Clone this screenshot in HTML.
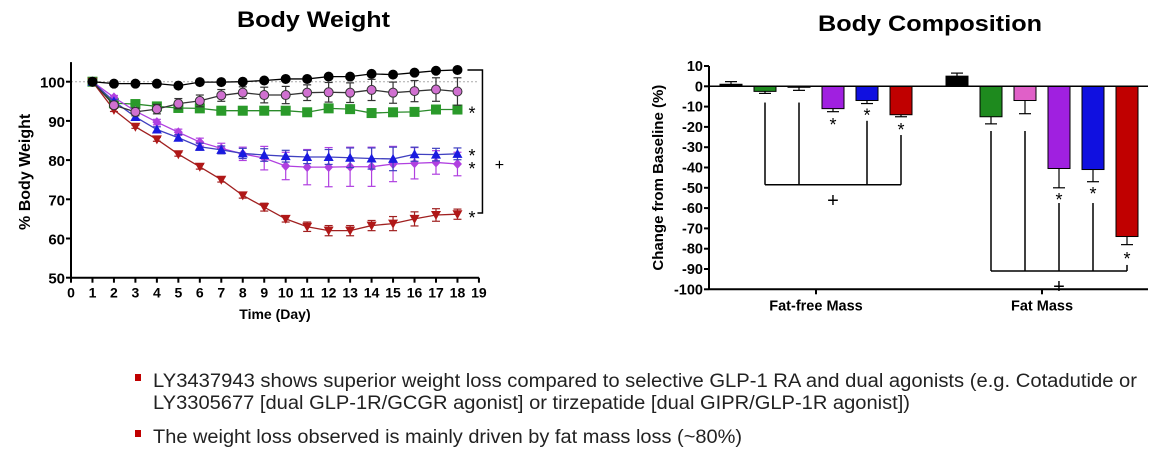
<!DOCTYPE html>
<html><head><meta charset="utf-8"><style>
html,body{margin:0;padding:0;background:#fff;width:1169px;height:454px;overflow:hidden;font-family:"Liberation Sans",Arial,sans-serif}
svg{display:block}
.t{font-family:"Liberation Sans",Arial,sans-serif}
</style></head><body>
<svg id="s" width="1169" height="454" viewBox="0 0 1169 454">
<text class="t" x="237" y="27" font-size="22" font-weight="bold" textLength="153" lengthAdjust="spacingAndGlyphs">Body Weight</text>
<text class="t" x="818" y="31" font-size="22" font-weight="bold" textLength="224" lengthAdjust="spacingAndGlyphs">Body Composition</text>
<g id="left"></g>
<g id="right"></g>
<g>
<rect x="135" y="374" width="6" height="7" fill="#c00000"/>
<text class="t" x="153" y="387" font-size="19" fill="#222" textLength="984" lengthAdjust="spacingAndGlyphs">LY3437943 shows superior weight loss compared to selective GLP-1 RA and dual agonists (e.g. Cotadutide or</text>
<text class="t" x="153" y="409" font-size="19" fill="#222" textLength="757" lengthAdjust="spacingAndGlyphs">LY3305677 [dual GLP-1R/GCGR agonist] or tirzepatide [dual GIPR/GLP-1R agonist])</text>
<rect x="135" y="430" width="6" height="7" fill="#c00000"/>
<text class="t" x="153" y="443" font-size="19" fill="#222" textLength="589" lengthAdjust="spacingAndGlyphs">The weight loss observed is mainly driven by fat mass loss (~80%)</text>
</g>
</svg>
<script>
// ---- Body weight data ----
const days=[1,2,3,4,5,6,7,8,9,10,11,12,13,14,15,16,17,18];
const xTicks=[0,1,2,3,4,5,6,7,8,9,10,11,12,13,14,15,16,17,18,19];
const yTicks=[50,60,70,80,90,100];
const vehicle=[100,99.5,99.5,99.5,99,99.9,99.9,100,100.3,100.7,100.7,101.3,101.3,102,101.8,102.3,102.8,103];
const pinkSeries=[100,94,92.3,93,94.4,95.1,96.5,97.2,96.6,96.6,97.2,97.3,97.2,97.9,97.2,97.6,98,97.5];
const pinkErr=[0,0.8,1,1.2,1.3,1.5,1.5,1.5,2,2.2,2,2.5,2.5,2.7,2.7,2.7,3,3.5];
const greenSeries=[100,94.5,94.3,93.7,93.3,93.2,92.6,92.6,92.6,92.6,92.2,93.2,93,92,92.2,92.3,92.9,92.9];
const greenErr=[0,0.5,0.5,0.6,0.7,0.8,0.8,0.9,0.9,1,1,1,1,1.1,1,1,1,1];
const blueSeries=[100,95,91,87.8,85.7,83.4,82.6,81.7,81.3,81,80.8,80.8,80.6,80.4,80.3,81.5,81.4,81.6];
const blueErr=[0,0.5,0.6,0.7,0.8,0.9,1,1.3,1.6,1.5,1.7,1.9,2.5,2.7,3,1.8,1.6,1.5];
const purpleSeries=[100,96,92.5,89.7,87.1,84.6,83,81.6,80.5,78.5,78.2,78.2,78.3,78.3,79,79.2,79.4,79];
const purpleErr=[0,0.5,0.6,0.7,0.8,1,1.3,1.7,3,3.5,4.5,5,5,5,4.5,4,3,3];
const redSeries=[100,92.8,88.5,85.3,81.5,78.3,75,71,68,65,63,62,62,63.3,63.8,65,66,66.2];
const redErr=[0,0.4,0.4,0.5,0.5,0.6,0.6,0.7,1,0.8,1.2,1.3,1.3,1.3,1.8,1.8,1.6,1.3];
// ---- Body composition data ----
const compCats=["Fat-free Mass","Fat Mass"];
const compTicks=[10,0,-10,-20,-30,-40,-50,-60,-70,-80,-90,-100];
const fatFree=[1,-2.5,-0.3,-11,-7,-14];
const fatFreeErr=[1.3,1,1.7,1.5,1.5,1];
const fatMass=[5,-15,-7,-40.5,-41,-74];
const fatMassErr=[1.5,3.5,6.5,9.5,6,4];
const barColors=["#000000","#1e8a1e","#e060c8","#a020e0","#1010e0","#c00000"];

const NS="http://www.w3.org/2000/svg";
function el(p,tag,attrs,name,txt){const e=document.createElementNS(NS,tag);for(const k in attrs)e.setAttribute(k,attrs[k]);


if(txt!==undefined)e.textContent=txt;p.appendChild(e);return e;}

// Left chart
const L=document.getElementById('left');
const x0=71,xPx=21.47,yTop=81.7,yBot=277.7;
const X=d=>x0+d*xPx, Y=v=>yBot-(v-50)*(yBot-yTop)/50;
el(L,'line',{x1:x0,y1:Y(100),x2:X(19),y2:Y(100),stroke:'#aaa','stroke-dasharray':'2,2','stroke-width':1},'baseline-100');
el(L,'line',{x1:x0,y1:Y(105),x2:x0,y2:yBot,stroke:'#000','stroke-width':2},'y-axis');
el(L,'line',{x1:x0,y1:yBot,x2:X(19),y2:yBot,stroke:'#000','stroke-width':2},'x-axis');
yTicks.forEach(v=>{el(L,'line',{x1:x0-5,y1:Y(v),x2:x0,y2:Y(v),stroke:'#000','stroke-width':2},'y-tick');
el(L,'text',{x:x0-6,y:Y(v)+6,'font-size':15,'font-weight':'bold','text-anchor':'end',class:'t'},'y-tick-label',v);});
xTicks.forEach(d=>{el(L,'line',{x1:X(d),y1:yBot,x2:X(d),y2:yBot+5,stroke:'#000','stroke-width':2},'x-tick');
el(L,'text',{x:X(d),y:yBot+20,'font-size':14,'font-weight':'bold','text-anchor':'middle',class:'t'},'x-tick-label',d);});
el(L,'text',{x:X(9.5),y:319,'font-size':14,'font-weight':'bold','text-anchor':'middle',class:'t'},'x-axis-title','Time (Day)');
el(L,'text',{x:0,y:0,'font-size':16,'font-weight':'bold','text-anchor':'middle',class:'t',transform:`translate(30,${Y(77)}) rotate(-90)`},'y-axis-title','% Body Weight');
function series(vals,errs,color,fill,shape,name){
  const g=el(L,'g',{},name+'-series');
  if(errs)days.forEach((d,i)=>{if(errs[i]>0){const a=Y(vals[i]-errs[i]),b=Y(vals[i]+errs[i]);
    el(g,'line',{x1:X(d),y1:a,x2:X(d),y2:b,stroke:color,'stroke-width':1.2},name+'-error-bar');
    el(g,'line',{x1:X(d)-4,y1:a,x2:X(d)+4,y2:a,stroke:color,'stroke-width':1.2},name+'-error-cap');
    el(g,'line',{x1:X(d)-4,y1:b,x2:X(d)+4,y2:b,stroke:color,'stroke-width':1.2},name+'-error-cap');}});
  el(g,'polyline',{points:days.map((d,i)=>X(d)+','+Y(vals[i])).join(' '),fill:'none',stroke:color,'stroke-width':1.3},name+'-line');
  days.forEach((d,i)=>{const cx=X(d),cy=Y(vals[i]);
    if(shape==='c')el(g,'circle',{cx,cy,r:4.5,fill,stroke:color,'stroke-width':1},name+'-point');
    else if(shape==='s')el(g,'rect',{x:cx-4.5,y:cy-4.5,width:9,height:9,fill,stroke:fill},name+'-point');
    else if(shape==='u')el(g,'polygon',{points:`${cx},${cy-5} ${cx-5},${cy+4} ${cx+5},${cy+4}`,fill},name+'-point');
    else if(shape==='d')el(g,'polygon',{points:`${cx},${cy+5} ${cx-5},${cy-4} ${cx+5},${cy-4}`,fill},name+'-point');
    else if(shape==='h')el(g,'polygon',{points:`${cx},${cy-5} ${cx+4.5},${cy} ${cx},${cy+5} ${cx-4.5},${cy}`,fill},name+'-point');
  });
}
series(greenSeries,greenErr,'#2a8a2a','#2a9a2a','s','green');
series(purpleSeries,purpleErr,'#b040e0','#b040e0','h','purple');
series(blueSeries,blueErr,'#4040c0','#1a1ae0','u','blue');
series(redSeries,redErr,'#a02020','#b01818','d','red');
series(pinkSeries,pinkErr,'#333','#d070d0','c','pink');
series(vehicle,null,'#000','#000','c','vehicle');
[[greenSeries,0],[blueSeries,-2],[purpleSeries,1],[redSeries,0]].forEach(([s,o])=>el(L,'text',{x:X(18)+11,y:Y(s[17])+o+10,'font-size':18,class:'t'},'significance-star','*'));
el(L,'polyline',{points:`${X(18)+10},${Y(103)} ${X(18)+25},${Y(103)} ${X(18)+25},${Y(66.5)} ${X(18)+20},${Y(66.5)}`,fill:'none',stroke:'#000','stroke-width':1.5},'comparison-bracket');
el(L,'text',{x:X(18)+42,y:Y(79)+6,'font-size':16,'text-anchor':'middle',class:'t'},'bracket-plus','+');

// Right chart
const R=document.getElementById('right');
const ax=709,axEnd=1148,yT=66,yB=289.3;
const RY=v=>yT+(10-v)*(yB-yT)/110;
const groupCenters=[816,1042],barStep=34,barW=22;
const BX=(g,i)=>groupCenters[g]+(i-2.5)*barStep;
el(R,'line',{x1:ax,y1:yT,x2:ax,y2:yB,stroke:'#000','stroke-width':2},'comp-y-axis');
el(R,'line',{x1:ax,y1:yB,x2:axEnd,y2:yB,stroke:'#000','stroke-width':2},'comp-x-axis');
compTicks.forEach(v=>{el(R,'line',{x1:ax-5,y1:RY(v),x2:ax,y2:RY(v),stroke:'#000','stroke-width':2},'comp-y-tick');
el(R,'text',{x:ax-6,y:RY(v)+5,'font-size':14.5,'font-weight':'bold','text-anchor':'end',class:'t'},'comp-y-tick-label',v);});
compCats.forEach((c,g)=>{el(R,'line',{x1:groupCenters[g],y1:yB,x2:groupCenters[g],y2:yB+5,stroke:'#000','stroke-width':2},'comp-x-tick');
el(R,'text',{x:groupCenters[g],y:yB+21,'font-size':14.5,'font-weight':'bold','text-anchor':'middle',class:'t'},'comp-x-label',c);});
el(R,'text',{x:0,y:0,'font-size':15,'font-weight':'bold','text-anchor':'middle',class:'t',transform:`translate(663,${RY(-45)}) rotate(-90)`},'comp-y-axis-title','Change from Baseline (%)');
[fatFree,fatMass].forEach((vals,g)=>{const errs=g?fatMassErr:fatFreeErr;
 vals.forEach((v,i)=>{const cx=BX(g,i),top=Math.min(RY(v),RY(0)),h=Math.abs(RY(v)-RY(0));
  el(R,'rect',{x:cx-barW/2,y:top,width:barW,height:Math.max(h,1),fill:barColors[i],stroke:'#000','stroke-width':1},'bar-'+(g?'fat':'fatfree')+'-'+i);
  const e=v>=0?v+errs[i]:v-errs[i];
  el(R,'line',{x1:cx,y1:RY(v),x2:cx,y2:RY(e),stroke:'#000','stroke-width':1.2},'bar-error');
  el(R,'line',{x1:cx-6,y1:RY(e),x2:cx+6,y2:RY(e),stroke:'#000','stroke-width':1.2},'bar-error-cap');});});
el(R,'line',{x1:ax,y1:RY(0),x2:axEnd,y2:RY(0),stroke:'#000','stroke-width':1.5},'zero-line');
function bracket(g,idx,tops,by,name){
  const xs=idx.map(i=>BX(g,i));
  el(R,'line',{x1:xs[0],y1:RY(by),x2:xs[xs.length-1],y2:RY(by),stroke:'#000','stroke-width':1.5},name);
  xs.forEach((x,k)=>el(R,'line',{x1:x,y1:RY(tops[k]),x2:x,y2:RY(by),stroke:'#000','stroke-width':1.5},name+'-leg'));
  el(R,'text',{x:BX(g,3),y:RY(by)+22,'font-size':20,'text-anchor':'middle',class:'t'},name+'-plus','+');
}
bracket(0,[1,2,4,5],[-8,-8,-17,-24],-48.5,'fatfree-bracket');
bracket(1,[1,2,3,4,5],[-22,-22,-57.5,-57.5,-88],-91,'fat-bracket');
[[0,3,-17],[0,4,-12.5],[0,5,-19.5],[1,3,-54],[1,4,-51],[1,5,-83]].forEach(([g,i,v])=>
 el(R,'text',{x:BX(g,i),y:RY(v)+10,'font-size':18,'text-anchor':'middle',class:'t'},'significance-star','*'));
</script>
</body></html>
